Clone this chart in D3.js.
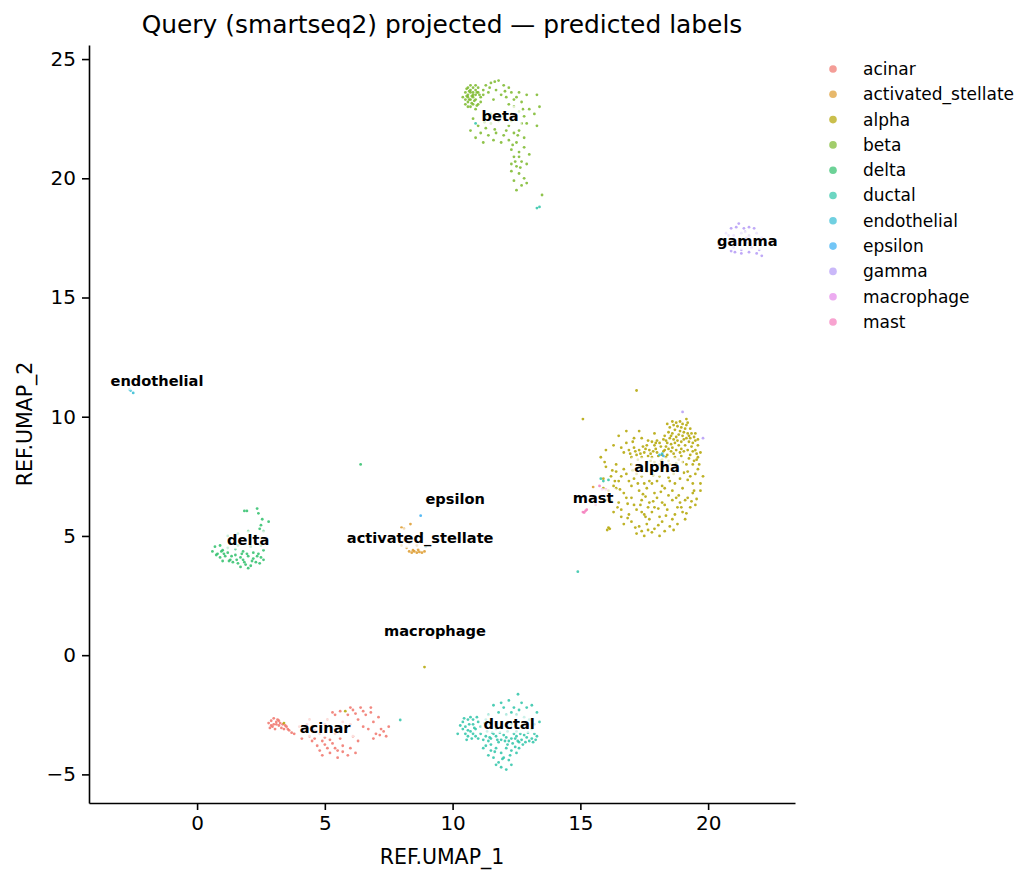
<!DOCTYPE html>
<html>
<head>
<meta charset="utf-8">
<script src="https://cdn.jsdelivr.net/npm/d3@7"></script>
<style>
  body { margin: 0; background: #fff; }
  text { font-family: "DejaVu Sans", sans-serif; }
</style>
</head>
<body>
<div id="wrapper"></div>
<script>
// cell types, in legend order
const cellTypes = ["acinar", "activated_stellate", "alpha", "beta", "delta", "ductal",
                   "endothelial", "epsilon", "gamma", "macrophage", "mast"];

// points, [REF.UMAP_1, REF.UMAP_2]
const acinarPts = [
  [2.8,-2.85],[2.9,-2.75],[3.0,-2.9],[3.1,-2.8],[2.95,-3.0],[3.2,-2.95],[3.3,-3.05],[3.0,-2.65],[3.15,-2.7],
  [3.4,-3.1],[3.5,-3.0],[2.85,-3.05],[3.25,-2.85],[3.6,-3.15],[3.7,-3.25],[3.05,-3.1],[3.35,-2.9],
  [2.9,-2.95],[3.1,-2.9],[3.2,-2.75],[3.45,-2.95],[3.55,-3.1],[3.8,-3.3],
  [4.0,-3.0],[4.2,-3.2],[4.4,-3.4],[4.3,-2.9],[4.6,-3.0],[4.8,-3.3],[4.5,-3.6],[4.7,-3.8],[4.9,-3.6],
  [5.1,-3.9],[5.3,-3.7],[5.5,-4.0],[5.7,-3.8],[5.2,-4.1],[4.8,-4.0],[5.9,-4.2],[6.0,-3.9],[5.6,-3.5],
  [5.0,-3.45],[5.4,-3.3],[5.8,-3.2],[6.1,-3.4],[6.3,-3.6],[5.1,-2.7],[5.4,-2.5],[5.6,-2.35],[5.9,-2.5],
  [6.1,-2.3],[6.4,-2.2],[6.6,-2.5],[6.8,-2.4],[6.3,-2.7],[5.7,-2.8],[6.0,-2.9],[6.5,-3.0],[6.9,-2.8],
  [6.7,-3.1],[7.0,-3.3],[7.2,-3.1],[7.4,-3.4],[7.3,-3.2],[7.5,-3.0],[6.9,-3.5],[5.3,-2.4],[4.6,-3.15],
  [4.1,-3.5],[6.2,-4.1],[5.5,-4.3],[6.8,-2.2],[7.1,-2.6],[4.4,-2.7],[5.0,-2.9],
  [4.6,-3.5],[5.0,-3.75],[5.4,-3.9],[5.7,-4.05],[4.9,-4.2],[5.2,-3.55],[6.2,-2.45],[6.5,-2.35],
  [7.15,-3.35],[6.0,-2.2]
];
const stellatePts = [
  [8.3,4.35],[8.4,4.3],[8.5,4.35],[8.6,4.3],[8.7,4.33],[8.8,4.3],[8.9,4.35],[8.45,4.4],[8.65,4.42],
  [8.0,4.6],[8.1,4.8],[8.2,4.5],[7.9,4.9],[8.3,4.7],[8.6,4.6],[8.1,5.3],[8.0,5.35],[8.35,5.5],[15.5,7.05]
];
const alphaPts = [
  [18.9,9.8],[19.0,9.7],[18.8,9.6],[19.1,9.5],[18.7,9.45],[19.2,9.3],[18.6,9.3],[18.9,9.4],[19.3,9.1],
  [18.5,9.1],[19.0,9.2],[18.8,9.0],[19.4,8.9],[18.4,8.9],[19.1,8.8],[18.6,8.7],[19.5,8.6],[18.3,8.6],
  [18.9,8.5],[19.3,8.4],[18.2,8.4],[19.6,8.3],[18.7,8.3],[19.0,8.1],[18.5,8.0],[19.4,8.0],[17.9,8.8],
  [17.7,8.6],[17.5,8.5],[17.8,8.3],[18.0,8.5],[18.1,8.9],[17.6,8.8],[17.4,8.3],[17.9,8.1],[18.2,8.2],
  [17.3,8.6],[18.3,9.2],[18.0,9.0],[17.8,8.95],[19.2,8.6],[18.7,8.9],[18.4,8.4],[18.1,8.0],[17.6,8.1],
  [19.5,9.0],[19.3,9.5],[18.5,9.55],[19.6,8.8],[17.2,8.4],[17.0,8.3],[16.9,8.6],[17.1,8.7],[18.6,9.8],
  [19.15,9.9],[19.55,8.2],[19.7,8.5],[19.65,8.0],[18.85,8.2],[18.35,8.75],[17.75,8.45],[18.55,8.55],
  [19.05,9.05],[18.25,9.05],[19.35,8.75],[17.45,8.75],[18.95,8.65],[19.25,9.2],[18.75,9.15],[18.45,9.35],
  [18.65,9.65],[18.95,9.55],[19.15,9.65],[18.75,9.75],[19.05,9.35],[18.55,9.2],[18.85,9.25],[19.35,9.3],
  [19.45,9.15],[18.65,9.05],[18.95,8.95],[19.25,8.95],[18.35,9.0],[18.15,8.75],[18.45,8.65],[18.75,8.6],
  [19.05,8.55],[19.4,8.55],[19.55,8.45],[18.05,8.35],[18.35,8.3],[18.65,8.45],[18.95,8.35],[19.25,8.25],
  [19.45,8.15],[17.85,8.55],[17.65,8.35],[17.55,8.65],[17.35,8.45],[17.15,8.55],[17.95,8.65],[18.25,8.55],
  [18.55,8.85],[18.85,8.8],[19.15,9.1],[18.15,8.15],[18.45,8.15],[18.75,8.05],[19.15,8.0],[17.75,8.15],
  [17.25,8.2],[19.6,9.05],[19.5,9.3],[18.4,9.7],[19.2,9.75],[17.95,8.9],[17.65,9.0],[16.95,8.45],
  [17.05,8.95],[16.7,8.5],
  [16.8,8.9],[17.1,9.1],[16.6,8.7],[17.4,9.1],[17.9,9.3],[16.3,8.8],[17.3,9.4],
  [16.0,7.9],[16.4,8.0],[16.7,7.8],[17.0,8.0],[17.3,7.9],[17.6,7.7],[18.0,7.8],[18.4,7.7],[18.8,7.8],
  [19.2,7.7],[19.6,7.8],[19.8,7.5],
  [15.9,7.4],[16.2,7.5],[16.5,7.3],[16.8,7.6],[17.1,7.4],[17.4,7.5],[17.7,7.3],[18.1,7.5],[18.5,7.3],
  [18.9,7.4],[19.3,7.5],[19.7,7.2],[16.3,7.1],
  [16.1,6.9],[16.4,7.0],[16.7,6.8],[17.0,7.1],[17.3,6.9],[17.6,7.0],[17.9,6.8],[18.2,7.1],[18.6,6.9],
  [19.0,7.0],[19.4,6.8],[19.7,6.9],[17.8,7.2],
  [16.2,6.5],[16.5,6.4],[16.8,6.6],[17.1,6.3],[17.4,6.5],[17.7,6.4],[18.0,6.6],[18.3,6.3],[18.6,6.5],
  [18.9,6.4],[19.2,6.6],[19.5,6.3],[17.55,6.65],[18.45,6.7],
  [16.3,6.0],[16.6,6.1],[16.9,5.9],[17.2,6.1],[17.5,5.9],[17.8,6.0],[18.1,5.8],[18.4,6.1],[18.7,5.9],
  [19.0,6.0],[19.3,6.2],[17.65,6.2],
  [16.7,5.5],[17.0,5.6],[17.3,5.4],[17.6,5.5],[17.9,5.3],[18.2,5.6],[18.5,5.4],[18.8,5.5],[19.1,5.7],
  [16.1,5.35],[16.05,5.25],[16.15,5.3],
  [17.2,5.1],[17.5,5.0],[17.8,5.15],[18.1,5.0],[17.4,5.2],
  [17.2,7.6],[17.5,7.2],[18.3,7.0],[18.7,7.2],[17.0,6.6],[18.2,6.4],[18.8,6.2],[17.4,6.0],[16.9,7.3],
  [18.0,7.3],[19.1,6.5],[17.9,6.2],[16.6,5.8],[18.6,5.7],[19.4,7.2],[16.4,7.7],[17.7,5.7],[18.3,5.2],
  [16.6,7.5],[17.05,7.75],[17.85,7.55],[18.25,7.85],[18.65,7.6],[19.05,7.65],[19.5,7.6],[16.35,7.3],
  [17.25,7.2],[18.45,7.45],[19.2,7.35],[16.55,6.95],[17.45,6.75],[18.15,6.85],[18.85,6.7],[19.55,6.55],
  [16.85,6.35],[17.85,6.45],[18.75,6.6],[19.35,6.45],[16.45,6.2],[17.35,6.3],[18.05,6.15],[18.95,6.2],
  [16.85,5.75],[17.55,5.8],[18.35,5.85],[19.15,5.95],[17.15,5.35],[18.05,5.45],[18.65,5.25],[17.65,5.25],
  [19.45,6.9],[16.25,7.75],[15.95,8.1],
  [15.9,7.0],[16.0,6.5],[15.8,8.3],[16.0,8.6],[16.5,9.2],[16.8,9.4],
  [17.2,11.1],[15.1,9.9],[8.8,5.1],[8.9,-0.5],[3.4,-2.85],[5.8,-2.35]
];
const betaPts = [
  [10.5,23.6],[10.6,23.4],[10.7,23.7],[10.6,23.2],[10.8,23.5],[10.9,23.3],[10.7,23.0],[10.5,23.1],
  [10.8,23.8],[11.0,23.6],[10.9,23.9],[10.6,23.8],[11.1,23.4],[10.8,23.1],[10.9,22.9],[10.4,23.4],
  [10.7,23.3],[11.0,23.1],[10.6,23.5],[10.8,23.6],[11.2,23.7],[10.5,23.3],[10.9,23.5],[10.7,23.9],
  [11.0,23.8],[10.8,23.4],[10.6,23.0],[11.1,23.2],[10.7,23.6],[10.9,23.7],
  [10.55,23.75],[10.65,23.65],[10.75,23.45],[10.85,23.25],[10.95,23.05],[10.65,23.3],[10.55,23.45],
  [11.05,23.5],[10.75,23.15],[10.95,23.6],
  [11.3,23.9],[11.5,24.0],[11.8,24.1],[12.0,23.9],[11.7,23.7],[11.4,23.6],[12.2,23.8],[11.9,23.5],
  [11.6,23.3],[12.1,23.4],[11.2,23.5],[12.3,23.6],[11.45,23.8],[11.65,24.05],[12.05,23.65],
  [12.5,23.4],[12.7,23.2],[12.9,23.5],[13.3,23.5],[13.4,23.0],[12.6,22.8],[13.0,22.9],[12.8,22.6],
  [13.2,22.7],[12.4,23.0],[12.3,22.7],[13.3,22.2],[12.9,22.3],[12.6,23.6],[12.2,23.1],[12.4,23.3],
  [12.75,22.9],
  [10.8,22.5],[11.0,22.2],[11.3,22.6],[11.5,22.3],[11.8,22.4],[12.0,22.6],[12.2,22.2],[11.1,21.9],
  [11.4,21.8],[11.7,21.9],[12.0,21.8],[12.4,21.9],[12.6,22.0],[11.9,21.5],[12.2,21.6],[12.5,21.5],
  [12.8,21.7],[10.9,21.7],[11.2,21.5],[11.6,21.6],[12.3,22.4],[11.5,22.7],[12.7,22.3],[11.3,22.1],
  [10.7,22.0],[12.1,22.0],[11.25,22.35],[11.65,22.05],[12.45,22.55],
  [12.3,21.2],[12.6,21.1],[12.8,21.3],[12.4,20.9],[12.7,20.7],[12.5,20.5],[12.9,20.6],[12.3,20.3],
  [12.6,20.2],[12.8,20.0],[12.4,19.9],[12.7,19.7],[12.5,19.5],[12.9,19.8],[12.6,20.9],[12.3,20.6],
  [13.0,21.0],[12.35,21.4],[12.55,21.8],[12.45,20.7],[12.65,20.45],[13.5,19.3]
];
const deltaPts = [
  [0.6,4.35],[0.8,4.25],[1.0,4.4],[1.2,4.3],[0.9,4.1],[1.1,4.15],[1.3,4.0],[1.5,4.2],[1.7,4.1],
  [1.4,3.9],[1.6,3.85],[1.8,4.0],[2.0,4.15],[2.2,4.05],[1.9,3.8],[2.1,3.75],[2.3,3.9],[2.5,4.1],
  [2.4,4.25],[2.6,4.0],[1.2,4.5],[1.5,4.45],[0.7,4.55],[1.0,3.95],[1.7,3.7],[2.0,3.65],[2.2,4.3],
  [1.8,4.35],[2.6,4.4],[0.9,4.6],[1.3,4.7],[2.1,4.55],[2.5,4.6],[1.6,4.6],
  [0.75,4.2],[1.05,4.25],[1.35,4.15],[1.55,4.0],[1.85,3.9],[2.15,3.95],[2.35,4.15],[1.95,4.25],
  [1.25,3.95],[2.45,3.85],[1.75,4.25],[0.95,4.35],
  [1.2,5.0],[1.6,5.1],[2.0,5.2],[2.3,5.0],[2.6,5.2],[2.5,5.45],[2.8,5.6],[2.55,5.7],[2.4,5.95],
  [2.35,6.15],[1.85,6.05],[1.95,6.05],[2.45,5.3],[6.4,8.0]
];
const ductalPts = [
  [10.4,-2.8],[10.5,-3.0],[10.6,-2.7],[10.7,-3.2],[10.8,-2.9],[10.9,-3.1],[10.5,-3.3],[10.6,-3.4],
  [10.8,-3.3],[11.0,-2.8],[11.1,-3.0],[10.4,-3.1],[10.7,-2.6],[10.9,-3.4],[11.1,-3.3],[10.3,-2.95],
  [10.6,-3.15],[10.8,-2.7],[11.0,-3.5],[10.2,-3.3],
  [10.45,-2.65],[10.65,-2.9],[10.85,-3.05],[10.75,-3.5],[10.55,-3.55],[10.95,-2.6],[11.25,-2.85],
  [11.3,-3.4],[11.5,-3.5],[11.7,-3.4],[11.9,-3.55],[12.1,-3.45],[12.3,-3.5],[12.5,-3.4],[12.7,-3.55],
  [12.9,-3.45],[13.1,-3.5],[13.3,-3.4],[11.4,-3.6],[11.8,-3.65],[12.2,-3.6],[12.6,-3.65],[13.0,-3.6],
  [11.6,-3.3],[12.0,-3.35],[12.4,-3.3],[12.8,-3.35],[13.2,-3.3],[11.2,-3.55],[12.35,-3.7],[12.75,-3.75],
  [11.35,-3.2],[11.55,-3.25],[11.85,-3.25],[12.15,-3.2],[12.45,-3.5],[12.65,-3.3],[12.95,-3.25],
  [13.25,-3.55],[11.45,-3.45],[11.75,-3.55],[12.05,-3.6],[12.55,-3.6],[12.85,-3.65],[13.15,-3.65],
  [11.6,-2.1],[11.9,-2.0],[12.2,-1.9],[12.4,-2.2],[12.7,-2.0],[12.9,-2.2],[13.1,-2.1],[13.3,-2.4],
  [11.8,-2.4],[12.1,-2.5],[12.5,-2.5],[12.8,-2.6],[13.0,-2.7],[13.4,-2.8],[11.4,-2.5],[12.56,-1.64],
  [11.3,-2.7],[13.2,-2.9],[12.0,-2.2],[12.3,-2.4],[12.6,-2.3],
  [11.5,-2.9],[11.9,-3.0],[12.3,-2.9],[12.7,-3.0],[13.1,-3.1],[11.7,-3.1],[12.5,-3.2],
  [11.3,-3.8],[11.5,-4.0],[11.7,-3.9],[11.9,-4.1],[12.1,-3.9],[12.3,-4.0],[11.6,-4.3],[11.8,-4.5],
  [12.0,-4.3],[12.2,-4.4],[11.9,-4.7],[12.1,-4.8],[12.3,-4.6],[11.4,-4.2],[12.5,-4.1],[11.2,-3.9],
  [12.6,-3.9],[11.7,-4.6],[11.65,-4.05],[11.95,-4.35],[12.25,-4.2],[11.5,-3.75],[12.15,-3.75],
  [12.45,-3.85],
  [7.95,-2.72],[14.9,3.5],[13.3,18.75],[13.4,18.8],[10.9,22.3],[15.8,7.4],[15.9,7.3],[16.1,7.35]
];
const endothelialPts = [[-2.5,11.0],[-2.6,11.1],[-2.65,11.15],[18.1,8.4],[18.2,8.45],[8.95,4.55]];
const epsilonPts = [[8.75,5.85],[18.25,8.35]];
const gammaPts = [
  [21.2,18.1],[20.9,17.9],[21.1,17.95],[21.4,17.9],[21.6,17.95],[21.8,17.9],[20.7,17.7],[21.0,17.6],
  [21.3,17.7],[21.6,17.6],[21.9,17.7],[20.5,17.4],[20.8,17.3],[21.2,17.4],[21.5,17.3],[21.8,17.4],
  [22.0,17.3],[20.6,17.1],[21.0,17.1],[21.3,17.0],[21.7,17.1],[22.0,17.0],[21.3,16.85],[21.6,16.9],
  [21.9,16.85],[22.1,16.75],[20.9,16.95],[21.5,17.5],[22.1,17.5],[20.4,17.2],
  [20.8,17.6],[21.45,17.75],[21.15,17.25],[21.7,17.25],[21.05,16.9],[19.0,10.2],[19.8,9.1]
];
const macrophagePts = [[9.2,0.75],[15.85,6.95]];
const mastPts = [[15.1,6.0],[15.2,6.05],[15.25,6.1],[15.15,5.98],[15.6,6.3],[15.75,7.1],[16.0,6.95]];

// where the cluster names sit (data units)
const labelX = [5.01, 8.73, 18.0, 11.86, 2.0, 12.21, -1.57, 10.1, 21.53, 9.31, 15.5];
const labelY = [-3.06, 4.91, 7.88, 22.62, 4.82, -2.89, 11.49, 6.55, 17.37, 1.0, 6.58];

const xTicks = [0, 5, 10, 15, 20];
const yTicks = [-5, 0, 5, 10, 15, 20, 25];

const pointSets = [acinarPts, stellatePts, alphaPts, betaPts, deltaPts, ductalPts,
                   endothelialPts, epsilonPts, gammaPts, macrophagePts, mastPts];

const palette = ["#f0746b", "#dd9a2c", "#b3a400", "#7bb82c", "#2fbf6b", "#2ec4a8",
                 "#33bcd4", "#38aef2", "#b49af6", "#e488e9", "#f57cbc"];

const width = 1035, height = 884;
const plotLeft = 89, plotRight = 795, plotTop = 45, plotBottom = 803;

const svg = d3.select("#wrapper").append("svg")
              .attr("width", width)
              .attr("height", height);

const x = d3.scaleLinear().domain([-4.23, 23.4]).range([plotLeft, plotRight]);
const y = d3.scaleLinear().domain([-6.2, 25.59]).range([plotBottom, plotTop]);
const color = d3.scaleOrdinal().domain(cellTypes).range(palette);

// points
const pts = [];
cellTypes.forEach((c, i) => pointSets[i].forEach(p => pts.push({type: c, x: p[0], y: p[1]})));

svg.append("g")
   .selectAll("circle")
   .data(pts)
   .enter().append("circle")
   .attr("cx", d => x(d.x))
   .attr("cy", d => y(d.y))
   .attr("r", 1.4)
   .style("fill", d => color(d.type))
   .style("opacity", 0.85);

// axes
const xAxis = svg.append("g")
  .attr("transform", "translate(0," + plotBottom + ")")
  .call(d3.axisBottom(x).tickValues(xTicks).tickSize(7).tickPadding(6).tickSizeOuter(0));
const yAxis = svg.append("g")
  .attr("transform", "translate(" + plotLeft + ",0)")
  .call(d3.axisLeft(y).tickValues(yTicks).tickSize(7).tickPadding(6).tickSizeOuter(0));

[xAxis, yAxis].forEach(a => {
  a.selectAll("path, line").style("stroke", "#000").style("stroke-width", 1.6);
  a.selectAll("text").style("font-size", "20px").style("fill", "#000")
   .style("font-family", "'DejaVu Sans', sans-serif");
});

svg.append("text")
   .attr("x", (plotLeft + plotRight) / 2).attr("y", 864)
   .attr("text-anchor", "middle")
   .style("font-size", "20.5px")
   .text("REF.UMAP_1");

svg.append("text")
   .attr("transform", "translate(32," + ((plotTop + plotBottom) / 2) + ") rotate(-90)")
   .attr("text-anchor", "middle")
   .style("font-size", "20.5px")
   .text("REF.UMAP_2");

svg.append("text")
   .attr("x", (plotLeft + plotRight) / 2).attr("y", 33)
   .attr("text-anchor", "middle")
   .style("font-size", "24.9px")
   .text("Query (smartseq2) projected — predicted labels");

// cluster labels with a half-see-through white box
const labels = svg.append("g")
  .selectAll("g")
  .data(cellTypes)
  .enter().append("g")
  .attr("transform", (d, i) => "translate(" + x(labelX[i]) + "," + y(labelY[i]) + ")");

labels.append("text")
  .attr("text-anchor", "middle")
  .attr("dy", "0.35em")
  .style("font-size", "14.6px")
  .style("font-weight", "bold")
  .style("fill", "#000")
  .text(d => d);

labels.each(function() {
  const g = d3.select(this);
  const b = g.select("text").node().getBBox();
  g.insert("rect", "text")
   .attr("x", b.x - 3).attr("y", b.y - 1)
   .attr("width", b.width + 6).attr("height", b.height + 2)
   .style("fill", "#fff")
   .style("opacity", 0.72);
});

// legend
const legend = svg.append("g")
  .selectAll("g")
  .data(cellTypes)
  .enter().append("g")
  .attr("transform", (d, i) => "translate(833," + (69 + i * 25.3) + ")");

legend.append("circle")
  .attr("r", 3.8)
  .style("fill", d => color(d))
  .style("opacity", 0.7);

legend.append("text")
  .attr("x", 30)
  .attr("dy", "0.35em")
  .style("font-size", "17px")
  .text(d => d);
</script>
</body>
</html>
